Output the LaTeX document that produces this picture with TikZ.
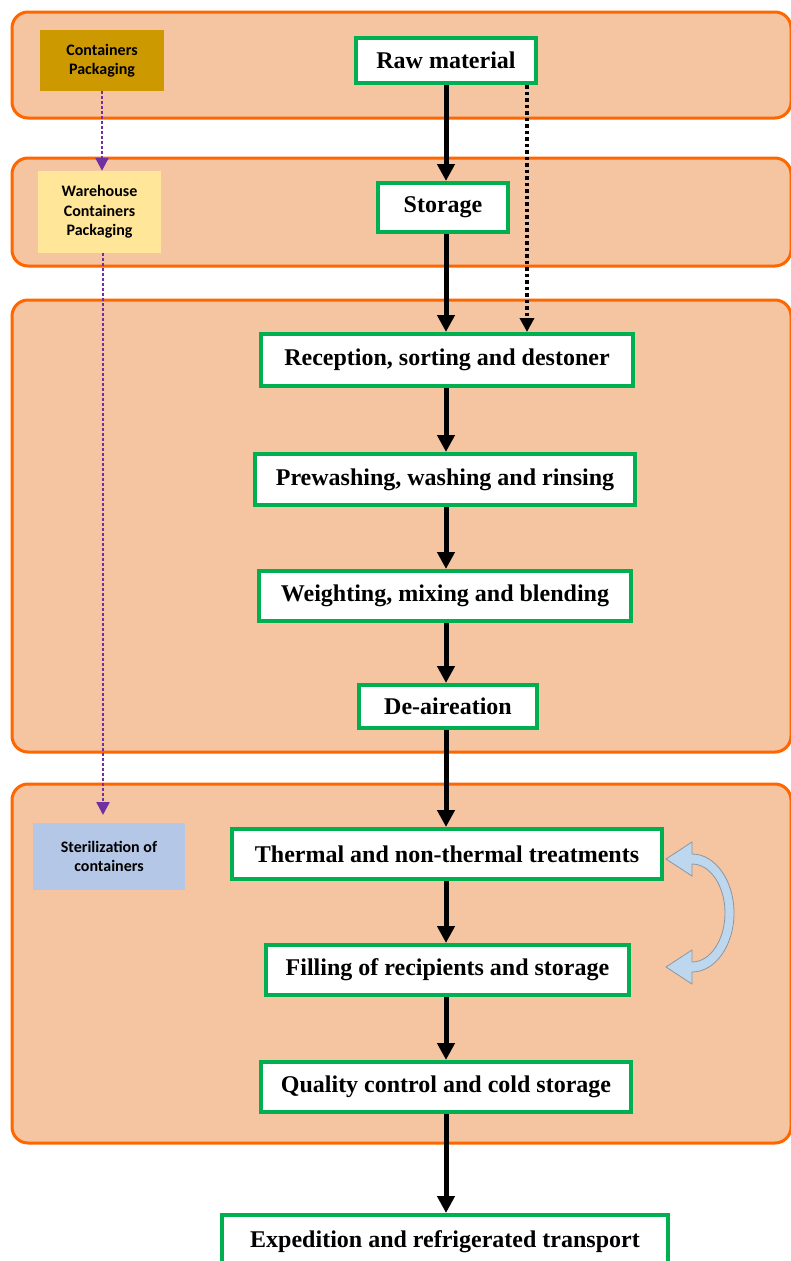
\documentclass[tikz,border=0pt]{standalone}
\usepackage{fontspec}
\setmainfont{Liberation Serif}
\newfontfamily\boxsans{Carlito}
\usetikzlibrary{arrows.meta}

\definecolor{bandfill}{HTML}{F5C4A1}
\definecolor{bandline}{HTML}{FF6600}
\definecolor{stepgreen}{HTML}{00B050}
\definecolor{goldbox}{HTML}{CC9900}
\definecolor{yellowbox}{HTML}{FFE699}
\definecolor{bluebox}{HTML}{B4C7E7}
\definecolor{purpleline}{HTML}{7030A0}
\definecolor{cyclefill}{HTML}{BDD7EE}
\definecolor{cycleline}{HTML}{8C96A0}

\begin{document}
\begin{tikzpicture}[x=1pt,y=1pt,
  band/.style={draw=bandline, fill=bandfill, line width=3pt, rounded corners=16pt},
  stepbox/.style={draw=stepgreen, fill=white, line width=4pt, inner sep=0pt,
    font=\fontsize{24}{28}\selectfont\bfseries},
  sidebox/.style={inner sep=0pt, align=center,
    font=\boxsans\fontsize{16}{19.5}\selectfont\bfseries},
  flow/.style={line width=5pt, -{Triangle[width=17pt,length=17pt]}},
  blackdot/.style={line width=3.5pt, dash pattern=on 3.5pt off 3pt,
    -{Triangle[width=14pt,length=14pt]}},
  purpledot/.style={draw=purpleline, line width=2.5pt, dash pattern=on 2.5pt off 2.5pt,
    -{Triangle[width=13pt,length=13pt,fill=purpleline]}},
]
\useasboundingbox (0,0) rectangle (790,-1261);

% stage bands
\draw[band] (12,-12) rectangle (791,-118);
\draw[band] (12,-158) rectangle (791,-266);
\draw[band] (12,-300) rectangle (791,-752);
\draw[band] (12,-784) rectangle (791,-1143);

% side boxes for containers
\node[sidebox, fill=goldbox, minimum width=124pt, minimum height=61pt] (cp) at (102,-60.5) {Containers\\Packaging};
\node[sidebox, fill=yellowbox, minimum width=123pt, minimum height=82pt] (wh) at (99.5,-212) {Warehouse\\Containers\\Packaging};
\node[sidebox, fill=bluebox, minimum width=152pt, minimum height=67pt] (st) at (109,-856.5) {Sterilization of\\containers};

% process steps
\node[stepbox, minimum width=180pt, minimum height=45pt] (raw) at (446,-60.5) {Raw material};
\node[stepbox, minimum width=130pt, minimum height=49pt] (sto) at (443,-207.5) {Storage};
\node[stepbox, minimum width=372pt, minimum height=52pt] (rec) at (447,-360) {Reception, sorting and destoner};
\node[stepbox, minimum width=380pt, minimum height=51pt] (pre) at (445,-479.5) {Prewashing, washing and rinsing};
\node[stepbox, minimum width=372pt, minimum height=50pt] (wei) at (445,-596) {Weighting, mixing and blending};
\node[stepbox, minimum width=178pt, minimum height=43pt] (dea) at (448,-706.5) {De-aireation};
\node[stepbox, minimum width=430pt, minimum height=50pt] (the) at (447,-854) {Thermal and non-thermal treatments};
\node[stepbox, minimum width=363pt, minimum height=50pt] (fil) at (447.5,-970) {Filling of recipients and storage};
\node[stepbox, minimum width=370pt, minimum height=50pt] (qua) at (446,-1087) {Quality control and cold storage};
\node[stepbox, minimum width=446pt, minimum height=54pt] (exp) at (445,-1242) {Expedition and refrigerated transport};

% main flow
\coordinate (flowx) at (446,0);
\draw[flow] (raw.south -| flowx) -- (sto.north -| flowx);
\draw[flow] (sto.south -| flowx) -- (rec.north -| flowx);
\draw[flow] (rec.south -| flowx) -- (pre.north -| flowx);
\draw[flow] (pre.south -| flowx) -- (wei.north -| flowx);
\draw[flow] (wei.south -| flowx) -- (dea.north -| flowx);
\draw[flow] (dea.south -| flowx) -- (the.north -| flowx);
\draw[flow] (the.south -| flowx) -- (fil.north -| flowx);
\draw[flow] (fil.south -| flowx) -- (qua.north -| flowx);
\draw[flow] (qua.south -| flowx) -- (exp.north -| flowx);

% direct path from raw material to reception
\coordinate (dotx) at (527,0);
\draw[blackdot] (raw.south -| dotx) -- (rec.north -| dotx);

% container flow
\draw[purpledot] (cp.south) -- (cp.south |- wh.north);
\coordinate (stin) at (103,-815);
\draw[purpledot] (wh.south -| stin) -- (stin);

% two-way curved arrow between treatment and filling
\filldraw[fill=cyclefill, draw=cycleline, line width=0.8pt, line join=miter]
  (666,-859) -- (692,-842) -- (692,-854)
  arc[start angle=90, end angle=-90, x radius=42, y radius=59]
  -- (692,-984) -- (666,-967) -- (692,-950) -- (692,-962)
  arc[start angle=-90, end angle=90, x radius=33, y radius=49]
  -- (692,-876) -- cycle;
\end{tikzpicture}
\end{document}
